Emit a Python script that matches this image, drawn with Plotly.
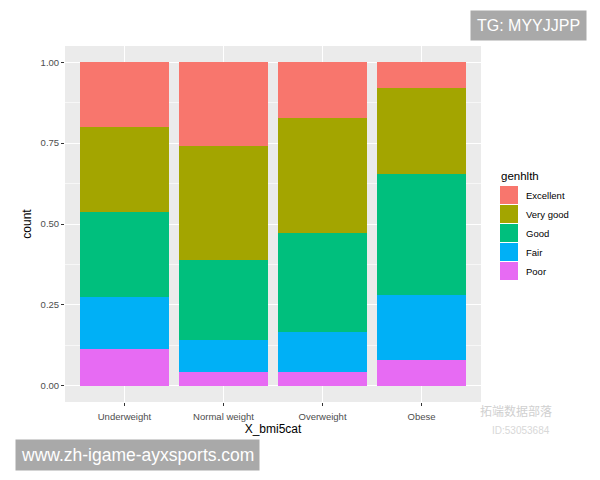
import plotly.graph_objects as go

categories = ["Underweight", "Normal weight", "Overweight", "Obese"]
levels = ["Excellent", "Very good", "Good", "Fair", "Poor"]
colors = ["#F8766D", "#A3A500", "#00BF7D", "#00B0F6", "#E76BF3"]

excellent = [0.199, 0.260, 0.174, 0.079]
very_good = [0.265, 0.352, 0.353, 0.267]
good = [0.262, 0.246, 0.308, 0.374]
fair = [0.159, 0.099, 0.121, 0.199]
poor = [0.115, 0.043, 0.044, 0.081]

series = [excellent, very_good, good, fair, poor]
y_ticks = [0, 0.25, 0.5, 0.75, 1.0]

fig = go.Figure()
# Add bottom-most (Poor) first so Excellent sits on top
for name, vals, col in reversed(list(zip(levels, series, colors))):
    fig.add_trace(go.Bar(
        x=categories, y=vals, name=name,
        marker=dict(color=col, line=dict(width=0)),
        width=0.9, showlegend=False,
    ))

font_family = "Liberation Sans, Arial, sans-serif"

# plot area in pixels
L, R, T, B = 65, 481, 46, 402
def px(x):
    return (x - L) / (R - L)
def py(y):
    return (B - y) / (B - T)

fig.update_layout(
    barmode="stack",
    width=600, height=480,
    margin=dict(l=L, r=600 - R, t=T, b=480 - B),
    paper_bgcolor="white",
    plot_bgcolor="#EBEBEB",
    font=dict(family=font_family, size=10, color="#4D4D4D"),
    showlegend=False,
    xaxis=dict(
        range=[-0.6, 3.6],
        showgrid=True, gridcolor="white", gridwidth=1,
        ticks="outside", ticklen=3, tickcolor="#333333", tickwidth=1,
        ticklabelstandoff=3,
        tickfont=dict(size=9.5, color="#4D4D4D"),
        title=dict(text="X_bmi5cat", font=dict(size=12, color="black"), standoff=2),
        zeroline=False, showline=False,
    ),
    yaxis=dict(
        range=[-0.05, 1.05],
        tickvals=y_ticks,
        ticktext=[f"{v:.2f}" for v in y_ticks],
        showgrid=True, gridcolor="white", gridwidth=1,
        minor=dict(dtick=0.125, tick0=0, showgrid=True, gridcolor="#F7F7F7", gridwidth=0.6),
        ticks="outside", ticklen=3, tickcolor="#333333", tickwidth=1,
        tickfont=dict(size=9.5, color="#4D4D4D"),
        title=dict(text="count", font=dict(size=12, color="black"), standoff=6),
        zeroline=False, showline=False,
    ),
)

# Legend drawn as keys (ggplot style)
fig.add_annotation(
    xref="paper", yref="paper", x=px(499), y=py(176),
    text="genhlth", showarrow=False, xanchor="left", yanchor="middle",
    font=dict(family=font_family, size=11.5, color="black"),
)
key_top = 186
pitch = 19
for i, (name, col) in enumerate(zip(levels, colors)):
    y0 = key_top + i * pitch
    fig.add_shape(
        type="rect", xref="paper", yref="paper",
        x0=px(500), x1=px(518), y0=py(y0 + pitch - 1), y1=py(y0),
        fillcolor=col, line=dict(width=0), layer="above",
    )
    fig.add_annotation(
        xref="paper", yref="paper", x=px(524), y=py(y0 + (pitch - 1) / 2),
        text=name, showarrow=False, xanchor="left", yanchor="middle",
        font=dict(family=font_family, size=9.5, color="black"),
    )

# Overlaid watermark labels seen on the image
fig.add_annotation(
    xref="paper", yref="paper", x=px(528), y=py(25),
    text="TG: MYYJJPP", showarrow=False,
    font=dict(family=font_family, size=16, color="white"),
    bgcolor="#A9A9A9", borderpad=6, xanchor="center", yanchor="middle",
)
fig.add_annotation(
    xref="paper", yref="paper", x=px(137), y=py(455),
    text="www.zh-igame-ayxsports.com", showarrow=False,
    font=dict(family=font_family, size=17.5, color="white"),
    bgcolor="#A9A9A9", borderpad=5, xanchor="center", yanchor="middle",
)
fig.add_annotation(
    xref="paper", yref="paper", x=px(478), y=py(410),
    text="拓端数据部落", showarrow=False,
    font=dict(family="Noto Sans CJK SC, sans-serif", size=12, color="#D0D0D0"),
    xanchor="left", yanchor="middle",
)
fig.add_annotation(
    xref="paper", yref="paper", x=px(490), y=py(430),
    text="ID:53053684", showarrow=False,
    font=dict(family=font_family, size=10, color="#D8D8D8"),
    xanchor="left", yanchor="middle",
)

fig.write_html("out.html")
